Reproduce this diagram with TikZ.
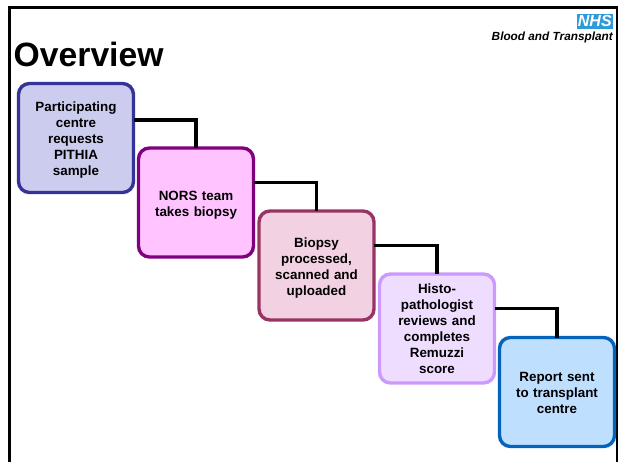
\documentclass[tikz,border=0pt]{standalone}
\usepackage{fontspec}
\setmainfont{Liberation Sans}
\usepackage{xcolor}
\usetikzlibrary{positioning}
\definecolor{boxa}{HTML}{333399}
\definecolor{fila}{HTML}{CCCCEE}
\definecolor{boxb}{HTML}{800080}
\definecolor{filb}{HTML}{FFC4FF}
\definecolor{boxc}{HTML}{993366}
\definecolor{filc}{HTML}{F2D2E2}
\definecolor{boxd}{HTML}{CC99FF}
\definecolor{fild}{HTML}{EEDDFF}
\definecolor{boxe}{HTML}{0563BB}
\definecolor{file}{HTML}{BFDFFF}
\definecolor{nhsblue}{HTML}{2E9BD8}
\tikzset{
    stage/.style={draw=#1, line width=3.4pt, rounded corners=11pt, minimum width=115pt, minimum height=109pt,
        text width=96pt, align=center, font=\bfseries\fontsize{13.4}{16}\selectfont, inner sep=0pt, outer sep=0pt,
        text height=14.6pt},
    link/.style={line width=3.6pt}
}
\begin{document}
\begin{tikzpicture}[x=1pt, y=-1pt]
        \useasboundingbox (0,0) rectangle (619,461);

        % Slide frame
        \draw[line width=2.2pt] (9.5,470) -- (9.5,7.5) -- (617,7.5) -- (617,470);

        % Heading
        \node[anchor=base west, inner sep=0pt, font=\bfseries\fontsize{33.7}{36}\selectfont] (title) at (13.5,66) {Overview};

        % Logo
        \node[fill=nhsblue, text=white, anchor=north east, minimum width=36pt, minimum height=14.5pt, inner sep=0pt,
            font=\bfseries\itshape\fontsize{16}{16}\selectfont] (nhs) at (613,14) {NHS};
        \node[anchor=base east, inner sep=0pt, font=\bfseries\itshape\fontsize{11.8}{12}\selectfont] (blood) at (613,40) {Blood and Transplant};

        % Stages
        \node[stage=boxa, fill=fila] (request) at (76,138) {Participating\\centre\\requests\\PITHIA\\sample};
        \node[stage=boxb, fill=filb] (biopsy) at (196,202.5) {NORS team\\takes biopsy};
        \node[stage=boxc, fill=filc] (scan) at (316.5,265.5) {Biopsy\\processed,\\scanned and\\uploaded};
        \node[stage=boxd, fill=fild, text height=10.6pt] (review) at (437,328.5) {Histo-\\pathologist\\reviews and\\completes\\Remuzzi\\score};
        \node[stage=boxe, fill=file, text height=11.6pt] (report) at (557,392) {Report sent\\to transplant\\centre};

        % Links
        \draw[link] ([yshift=18pt]request.east) -| (biopsy.north);
        \draw[link] ([yshift=20pt]biopsy.east) -| (scan.north);
        \draw[link] ([yshift=20pt]scan.east) -| (review.north);
        \draw[link] ([yshift=20pt]review.east) -| (report.north);
    \end{tikzpicture}
\end{document}
